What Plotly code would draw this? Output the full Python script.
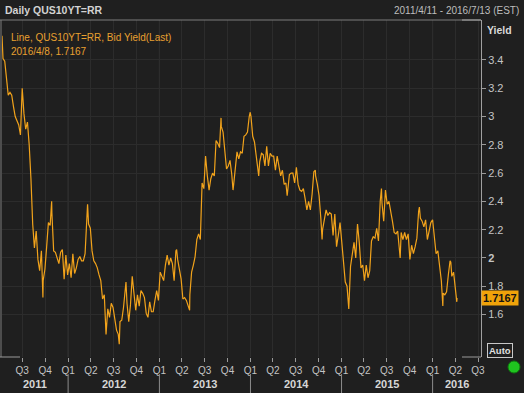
import pandas as pd
import plotly.graph_objects as go

# ---------------- data (weekly Friday closes) ----------------
y2011 = [3.41, 3.39, 3.29, 3.15, 3.17, 3.15, 3.07, 3.00, 2.97, 2.94, 2.87, 3.20, 3.02,
         2.91, 2.96, 2.80, 2.56, 2.24, 2.07, 2.19, 1.99, 1.91, 2.05, 1.84, 1.92, 2.08,
         2.25, 2.23, 2.32, 2.05, 2.04, 2.00, 1.96, 2.04, 2.06, 1.85, 2.02, 1.88]
y2012 = [1.96, 1.86, 2.03, 1.89, 1.93, 1.99, 2.01, 1.98, 1.98, 2.03, 2.30, 2.24, 2.21,
         2.05, 1.98, 1.96, 1.93, 1.88, 1.84, 1.71, 1.74, 1.46, 1.64, 1.58, 1.68, 1.65,
         1.55, 1.49, 1.46, 1.55, 1.56, 1.65, 1.81, 1.68, 1.55, 1.67, 1.87, 1.75, 1.63,
         1.74, 1.66, 1.77, 1.75, 1.72, 1.61, 1.58, 1.69, 1.62, 1.62, 1.70, 1.77, 1.70]
y2013 = [1.90, 1.87, 1.84, 1.95, 2.02, 1.95, 2.00, 1.96, 1.84, 2.05, 1.99, 1.93, 1.85,
         1.71, 1.72, 1.70, 1.66, 1.74, 1.90, 1.95, 2.01, 2.13, 2.17, 2.13, 2.53, 2.49,
         2.72, 2.58, 2.48, 2.56, 2.60, 2.58, 2.83, 2.81, 2.78, 2.93, 2.89, 2.74, 2.63,
         2.65, 2.69, 2.59, 2.51, 2.62, 2.75, 2.70, 2.75, 2.74, 2.86, 2.87, 2.89, 3.00]
y2014 = [3.00, 2.86, 2.82, 2.72, 2.64, 2.68, 2.74, 2.73, 2.65, 2.79, 2.65, 2.74, 2.72,
         2.72, 2.62, 2.72, 2.66, 2.58, 2.62, 2.52, 2.53, 2.47, 2.59, 2.60, 2.60, 2.53,
         2.64, 2.52, 2.48, 2.47, 2.49, 2.42, 2.34, 2.40, 2.34, 2.45, 2.61, 2.58, 2.52,
         2.44, 2.28, 2.20, 2.27, 2.34, 2.30, 2.32, 2.31, 2.16, 2.31, 2.08, 2.16, 2.25]
y2015 = [2.11, 1.95, 1.83, 1.80, 1.64, 1.94, 2.02, 2.11, 2.00, 2.24, 2.11, 1.93, 1.95,
         1.84, 1.95, 1.86, 1.91, 2.12, 2.15, 2.14, 2.21, 2.12, 2.40, 2.39, 2.26, 2.48,
         2.38, 2.40, 2.34, 2.26, 2.18, 2.17, 2.19, 2.04, 2.18, 2.13, 2.18, 2.13, 2.17,
         1.99, 2.09, 2.03, 2.08, 2.14, 2.33, 2.28, 2.26, 2.22, 2.27, 2.13, 2.20, 2.25]
y2016 = [2.27, 2.12, 2.03, 2.05, 1.92, 1.84, 1.75, 1.74, 1.76, 1.88, 1.98, 1.87, 1.90,
         1.77, 1.7167]
year_starts = ["2011-04-15", "2012-01-06", "2013-01-04", "2014-01-03", "2015-01-02", "2016-01-01"]

# notable daily highs / lows seen on the chart
extra_dates = ["2011-04-11", "2011-09-22", "2011-10-27", "2012-03-19", "2012-07-24",
               "2012-08-20", "2013-03-11", "2013-05-02", "2013-09-05", "2013-10-23",
               "2013-12-31", "2014-02-03", "2014-05-28", "2014-09-18", "2014-10-15",
               "2015-06-10", "2015-08-24", "2015-11-09", "2016-02-11", "2016-03-14",
               "2016-04-07"]
extra_vals = [3.57, 1.72, 2.40, 2.38, 1.39, 1.83, 2.06, 1.63, 2.99, 2.48,
              3.03, 2.58, 2.44, 2.62, 2.13, 2.49, 2.00, 2.36, 1.66, 1.97, 1.69]

quarter_ticks = ["2011-07-01", "2011-10-01", "2012-01-01", "2012-04-01", "2012-07-01",
                 "2012-10-01", "2013-01-01", "2013-04-01", "2013-07-01", "2013-10-01",
                 "2014-01-01", "2014-04-01", "2014-07-01", "2014-10-01", "2015-01-01",
                 "2015-04-01", "2015-07-01", "2015-10-01", "2016-01-01", "2016-04-01",
                 "2016-07-01"]
quarter_labels = ["Q3", "Q4", "Q1", "Q2", "Q3", "Q4", "Q1", "Q2", "Q3", "Q4", "Q1",
                  "Q2", "Q3", "Q4", "Q1", "Q2", "Q3", "Q4", "Q1", "Q2", "Q3"]
years = ["2011", "2012", "2013", "2014", "2015", "2016"]
y_ticks = [1.6, 1.8, 2.0, 2.2, 2.4, 2.6, 2.8, 3.0, 3.2, 3.4]
y_labels = ["1.6", "1.8", "<b>2</b>", "2.2", "2.4", "2.6", "2.8", "3", "3.2", "3.4"]

x_start, x_end = "2011-04-11", "2016-07-13"
range_text = "2011/4/11 - 2016/7/13 (EST)"
last_date, last_val = "2016/4/8", 1.7167

# ---------------- build series ----------------
frames = []
for start, vals in zip(year_starts, [y2011, y2012, y2013, y2014, y2015, y2016]):
    d = pd.date_range(start, periods=len(vals), freq="W-FRI")
    frames.append(pd.DataFrame({"date": d, "val": vals}))
frames.append(pd.DataFrame({"date": pd.to_datetime(extra_dates), "val": extra_vals}))
df = pd.concat(frames).sort_values("date").drop_duplicates("date", keep="last")

BG = "#1f1f1f"
GRID = "#2c2c2c"
TXT = "#c4c4c4"
FONT = "Liberation Sans, Arial, sans-serif"

fig = go.Figure(go.Scatter(x=df["date"], y=df["val"], mode="lines",
                           line=dict(color="#f2a31b", width=1.2), hoverinfo="skip"))

PL, PR, PT, PB = 2, 481, 20, 357
W, H = 524, 393


def px_x(p):
    return (p - PL) / (PR - PL)


def px_y(p):
    return (PB - p) / (PB - PT)


shapes = []
annotations = []

# brighter year gridlines inside plot and separators under axis
for y in years[1:]:
    shapes.append(dict(type="line", xref="x", yref="paper", x0=f"{y}-01-01", x1=f"{y}-01-01",
                       y0=0, y1=1, line=dict(color="#383838", width=1), layer="below"))
    shapes.append(dict(type="line", xref="x", yref="paper", x0=f"{y}-01-01", x1=f"{y}-01-01",
                       y0=px_y(374), y1=px_y(393), line=dict(color="#8c8c8c", width=1)))

# frame
fc = "#7c7c7c"
shapes += [
    dict(type="line", xref="paper", yref="paper", x0=px_x(0), x1=1, y0=1, y1=1, line=dict(color=fc, width=1)),
    dict(type="line", xref="paper", yref="paper", x0=px_x(1), x1=px_x(1), y0=0, y1=1, line=dict(color=fc, width=1)),
    dict(type="line", xref="paper", yref="paper", x0=px_x(0), x1=px_x(20), y0=0, y1=0, line=dict(color="#9a9a9a", width=1)),
    dict(type="line", xref="paper", yref="paper", x0=px_x(462), x1=1, y0=0, y1=0, line=dict(color="#9a9a9a", width=1)),
    dict(type="line", xref="paper", yref="paper", x0=px_x(462), x1=1, y0=1, y1=1, line=dict(color="#a8a8a8", width=1)),
    dict(type="circle", xref="paper", yref="paper", x0=px_x(508), x1=px_x(520), y0=px_y(373), y1=px_y(361),
         fillcolor="#1fc41f", line=dict(color="#0e7a0e", width=1)),
]

# year labels centred on visible part of each year
xs = pd.Timestamp(x_start)
xe = pd.Timestamp(x_end)
for y in years:
    a = max(pd.Timestamp(f"{y}-01-01"), xs)
    b = min(pd.Timestamp(f"{int(y) + 1}-01-01"), xe)
    mid = a + (b - a) / 2
    annotations.append(dict(x=mid, y=px_y(384), xref="x", yref="paper", text=f"<b>{y}</b>",
                            showarrow=False, font=dict(family=FONT, size=11, color="#d6d6d6"),
                            xanchor="center", yanchor="middle"))

annotations += [
    dict(x=px_x(3), y=px_y(10), xref="paper", yref="paper", text="<b>Daily QUS10YT=RR</b>",
         showarrow=False, xanchor="left", yanchor="middle", font=dict(family=FONT, size=10.5, color="#d2d2d2")),
    dict(x=px_x(521), y=px_y(10), xref="paper", yref="paper", text=range_text,
         showarrow=False, xanchor="right", yanchor="middle", font=dict(family=FONT, size=10, color="#bdbdbd")),
    dict(x=px_x(9), y=px_y(38), xref="paper", yref="paper", text="Line, QUS10YT=RR, Bid Yield(Last)",
         showarrow=False, xanchor="left", yanchor="middle", font=dict(family=FONT, size=10, color="#e8a030")),
    dict(x=px_x(9), y=px_y(52), xref="paper", yref="paper", text=f"{last_date}, {last_val}",
         showarrow=False, xanchor="left", yanchor="middle", font=dict(family=FONT, size=10, color="#e8a030")),
    dict(x=px_x(485), y=px_y(30), xref="paper", yref="paper", text="<b>Yield</b>",
         showarrow=False, xanchor="left", yanchor="middle", font=dict(family=FONT, size=10.5, color="#d8d8d8")),
    dict(x=1, y=last_val, xref="paper", yref="y", text=f"<b>{last_val}</b>", showarrow=False,
         xanchor="left", yanchor="middle", bgcolor="#f0a30a", borderpad=1,
         font=dict(family=FONT, size=11, color="#141414")),
    dict(x=px_x(500), y=px_y(350), xref="paper", yref="paper", text="<b>Auto</b>", showarrow=False,
         xanchor="center", yanchor="middle", bordercolor="#c8c8c8", borderwidth=1, borderpad=1,
         bgcolor=BG, font=dict(family=FONT, size=9.5, color="#e0e0e0")),
]

fig.update_layout(
    width=W, height=H,
    margin=dict(l=PL, r=W - PR, t=PT, b=H - PB),
    paper_bgcolor=BG, plot_bgcolor=BG,
    showlegend=False,
    font=dict(family=FONT, color=TXT),
    shapes=shapes, annotations=annotations,
    xaxis=dict(type="date", range=[x_start, x_end], tickvals=quarter_ticks, ticktext=quarter_labels,
               ticks="outside", ticklen=4, tickcolor="#9a9a9a", tickfont=dict(family=FONT, size=10, color=TXT),
               showgrid=True, gridcolor=GRID, gridwidth=1, zeroline=False, showline=False, fixedrange=True),
    yaxis=dict(side="right", range=[1.30, 3.682], tickvals=y_ticks, ticktext=y_labels,
               ticks="outside", ticklen=4, tickcolor="#9a9a9a", tickfont=dict(family=FONT, size=11, color=TXT),
               showline=True, linecolor="#a0a0a0", linewidth=1, showgrid=True, gridcolor=GRID,
               gridwidth=1, zeroline=False, fixedrange=True),
)

fig.write_html("out.html", config={"displayModeBar": False},
               post_script="document.body.style.margin='0';document.body.style.background='#1f1f1f';")
